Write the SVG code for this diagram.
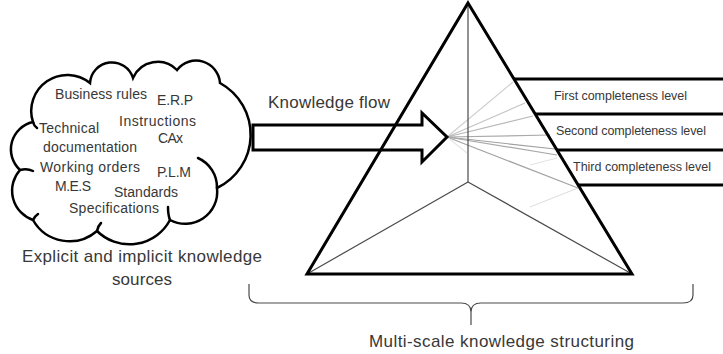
<svg xmlns="http://www.w3.org/2000/svg" width="723" height="354" viewBox="0 0 723 354">
<style>
.t{font-family:"Liberation Sans",Arial,sans-serif;fill:#383838}
.c{font-size:14px}
.lv{font-size:12.5px}
.big{font-size:17px}
.thick{stroke:#000;stroke-width:3;fill:none;stroke-linejoin:miter}
.thin{stroke:#4a4a4a;stroke-width:1.2;fill:none}
.cloud{stroke:#000;stroke-width:2.5;fill:none;stroke-linecap:round}
.ray{stroke-width:1.2;fill:none}
</style>
<rect width="723" height="354" fill="#fff"/>
<g id="cloud">
<path class="cloud" d="M33,122 A36 36 0 0 1 90,83 A22 22 0 0 1 133,78 A27 27 0 0 1 177,70 A24 24 0 0 1 220,83 A59 59 0 0 1 217,188 A32 32 0 0 1 170,220 A46 46 0 0 1 97,231 A42 42 0 0 1 33,220 A31 31 0 0 1 20,170 A28 28 0 0 1 33,122 Z"/>
<path class="cloud" d="M198,158 A32 32 0 0 1 217,188"/>
<path class="cloud" d="M168,207 Q168,215 170,220"/>
<path class="cloud" d="M97,231 Q98,226 101,223"/>
<path class="cloud" d="M33,220 Q35,216 38,214"/>
<path class="cloud" d="M20,170 Q27,168 33,171"/>
<path class="cloud" d="M33,122 Q34,126 37,128"/>
<text class="t c" x="55" y="99" textLength="92">Business rules</text>
<text class="t c" x="157" y="105" textLength="36">E.R.P</text>
<text class="t c" x="39" y="133" textLength="60">Technical</text>
<text class="t c" x="119" y="126" textLength="77">Instructions</text>
<text class="t c" x="158" y="143" textLength="25">CAx</text>
<text class="t c" x="43" y="152" textLength="94">documentation</text>
<text class="t c" x="40" y="172" textLength="100">Working orders</text>
<text class="t c" x="157" y="177" textLength="34">P.L.M</text>
<text class="t c" x="55" y="191" textLength="36">M.E.S</text>
<text class="t c" x="114" y="197" textLength="64">Standards</text>
<text class="t c" x="69" y="213" textLength="90">Specifications</text>
</g>
<g id="sources-label">
<text class="t big" x="22" y="262" textLength="240">Explicit and implicit knowledge</text>
<text class="t big" x="112" y="285" textLength="60">sources</text>
</g>
<g id="connectors">
<g id="rays">
<line class="ray" stroke="#cfcfcf" x1="447" y1="137" x2="513" y2="82"/>
<line class="ray" stroke="#c4c4c4" x1="447" y1="137" x2="525" y2="103"/>
<line class="ray" stroke="#b8b8b8" x1="447" y1="137" x2="533" y2="116"/>
<line class="ray" stroke="#aaaaaa" x1="447" y1="137" x2="550" y2="135"/>
<line class="ray" stroke="#a0a0a0" x1="447" y1="137" x2="555" y2="149"/>
<line class="ray" stroke="#a8a8a8" x1="447" y1="137" x2="557" y2="155"/>
<line class="ray" stroke="#a4a4a4" x1="447" y1="137" x2="578" y2="188"/>
<line class="ray" stroke="#e6e6e6" x1="447" y1="137" x2="467" y2="153"/>
<line class="ray" stroke="#e4e4e4" x1="557" y1="158" x2="530" y2="165"/>
<line class="ray" stroke="#e0e0e0" x1="578" y1="188" x2="530" y2="207"/>
</g>
<g id="flow-arrow">
<path class="thick" d="M253,125 L422,125 L422,113 L447,137 L422,162 L422,150 L253,150 Z"/>
<text class="t big" x="268" y="108" textLength="122">Knowledge flow</text>
</g>
</g>
<g id="pyramid">
<line class="thin" x1="468" y1="4" x2="468" y2="182"/>
<line class="thin" x1="468" y1="182" x2="307" y2="274"/>
<line class="thin" x1="468" y1="182" x2="632" y2="274"/>
<path class="thick" d="M468,3 L632,274 L307,274 Z"/>
</g>
<g id="levels">
<line class="thick" x1="514" y1="79" x2="723" y2="79"/>
<line class="thick" x1="535" y1="114" x2="723" y2="114"/>
<line class="thick" x1="557" y1="150" x2="723" y2="150"/>
<line class="thick" x1="578" y1="185" x2="723" y2="185"/>
<text class="t lv" x="554" y="100" textLength="133">First completeness level</text>
<text class="t lv" x="556" y="135" textLength="150">Second completeness  level</text>
<text class="t lv" x="573" y="171" textLength="138">Third completeness level</text>
</g>
<g id="brace">
<path class="thin" d="M249,284 L249,295 Q249,303 259,303 L461,303 Q471,303 471,312 L471,325 M471,312 Q471,303 481,303 L683,303 Q693,303 693,295 L693,284"/>
<text class="t big" x="369" y="347" textLength="265">Multi-scale knowledge structuring</text>
</g>
</svg>
